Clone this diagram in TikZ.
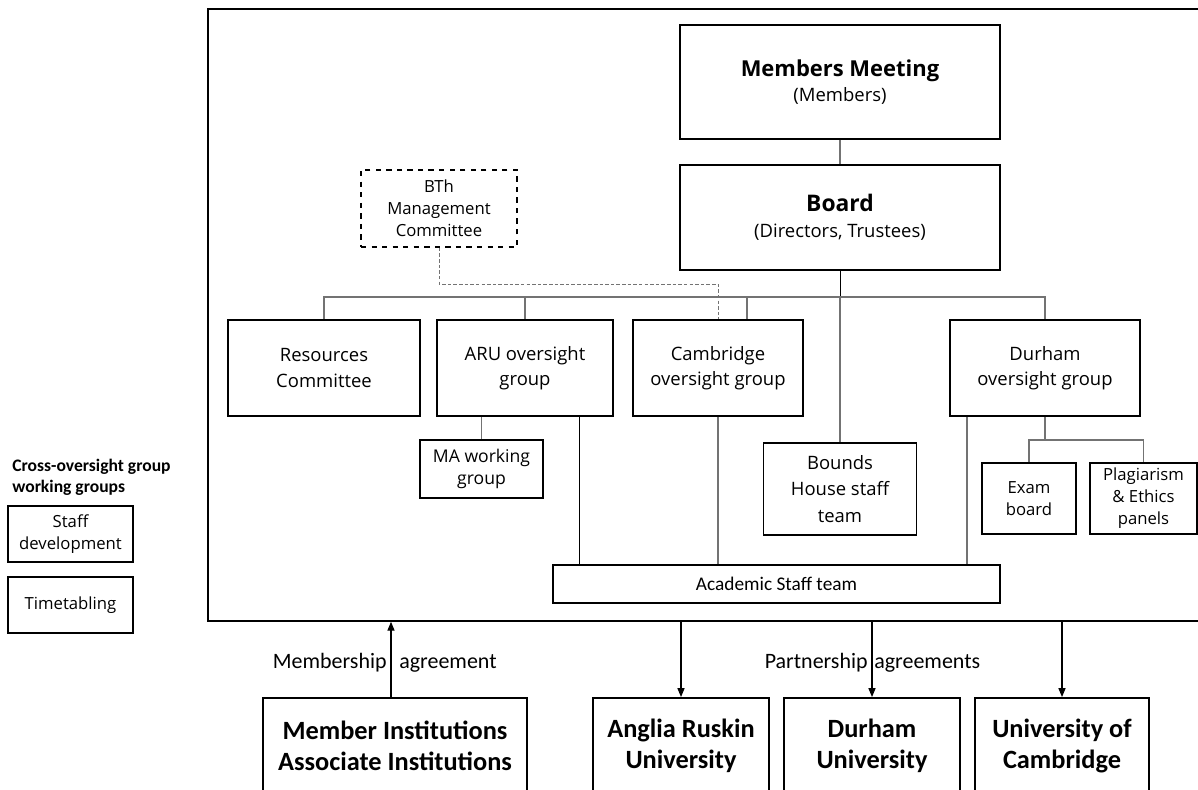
\documentclass[tikz,border=0pt]{standalone}
\usepackage{fontspec}
\setmainfont{Open Sans}
\newfontfamily\calib{Carlito}
\usetikzlibrary{arrows.meta}

\begin{document}
\begin{tikzpicture}[box/.style={rectangle,draw,line width=0.9pt,inner sep=0pt,align=center,font=\fontsize{10.5}{14.5}\selectfont},
	uni/.style={box,font=\calib\bfseries\fontsize{15}{18}\selectfont,minimum width=3.52cm,minimum height=1.92cm},
	conn/.style={draw=black!55,line width=0.6pt},
	arr/.style={line width=0.6pt,-{Triangle[length=5pt,width=4pt]}},
	lbl/.style={font=\calib\fontsize{12.5}{15}\selectfont,inner sep=0pt}]
\useasboundingbox (0,0) rectangle (23.96,-15.78);
\clip (0,0) rectangle (23.96,-15.78);

\node[draw,line width=0.9pt,minimum width=20.04cm,minimum height=12.24cm] at (14.18,-6.3) (frame) {};

\node[box,minimum width=6.4cm,minimum height=2.28cm] at (16.8,-1.64) (mm) {{\bfseries\fontsize{12.5}{17}\selectfont Members Meeting}\\(Members)};
\node[box,minimum width=6.4cm,minimum height=2.1cm] at (16.8,-4.35) (board) {{\bfseries\fontsize{13}{18}\selectfont Board}\\(Directors, Trustees)};
\node[box,dashed,minimum width=3.12cm,minimum height=1.54cm,font=\fontsize{9.5}{12.5}\selectfont] at (8.78,-4.17) (bth) {BTh\\Management\\Committee};

\node[box,minimum width=3.84cm,minimum height=1.92cm] at (6.48,-7.36) (res) {Resources\\Committee};
\node[box,minimum width=3.52cm,minimum height=1.92cm] at (10.5,-7.36) (aru) {ARU oversight\\group};
\node[box,minimum width=3.4cm,minimum height=1.92cm] at (14.36,-7.36) (cam) {Cambridge\\oversight group};
\node[box,minimum width=3.8cm,minimum height=1.92cm] at (20.9,-7.36) (dur) {Durham\\oversight group};

\node[box,minimum width=2.46cm,minimum height=1.16cm,font=\fontsize{10}{13}\selectfont] at (9.63,-9.38) (ma) {MA working\\group};
\node[box,minimum width=3.06cm,minimum height=1.84cm,font=\fontsize{10.5}{15}\selectfont] at (16.8,-9.78) (bounds) {Bounds\\House staff\\team};
\node[box,minimum width=1.88cm,minimum height=1.42cm,font=\fontsize{9.5}{12.5}\selectfont] at (20.58,-9.97) (exam) {Exam\\board};
\node[box,minimum width=2.14cm,minimum height=1.42cm,font=\fontsize{9.5}{12.5}\selectfont] at (22.87,-9.97) (plag) {Plagiarism\\\&~Ethics\\panels};
\node[box,minimum width=8.94cm,minimum height=0.76cm,font=\calib\fontsize{11}{13}\selectfont] at (15.53,-11.68) (acad) {Academic Staff team};

% left hand groups
\node[anchor=west,align=left,inner sep=0pt,font=\calib\bfseries\fontsize{10}{12}\selectfont] at (0.24,-9.55) (cross) {Cross-oversight group\\working groups};
\node[box,minimum width=2.5cm,minimum height=1.12cm,font=\fontsize{9.5}{12.5}\selectfont] at (1.41,-10.68) (staff) {Staff\\development};
\node[box,minimum width=2.5cm,minimum height=1.12cm,font=\fontsize{9.5}{12.5}\selectfont] at (1.41,-12.1) (time) {Timetabling};

% institutions
\node[uni,anchor=north,minimum width=5.28cm] at (7.9,-13.94) (member) {Member Institutions\\Associate Institutions};
\node[uni,anchor=north] at (13.62,-13.94) (anglia) {Anglia Ruskin\\University};
\node[uni,anchor=north] at (17.44,-13.94) (durham) {Durham\\University};
\node[uni,anchor=north,minimum width=3.48cm] at (21.24,-13.94) (cambridge) {University of\\Cambridge};

\coordinate (bus) at (16.8,-5.94);
\coordinate (sub) at (20.9,-8.8);
\coordinate (dot) at (8.78,-5.68);
\coordinate (camdrop) at (14.94,0);
\coordinate (aruacad) at (11.58,0);
\coordinate (duracad) at (19.34,0);
\coordinate (memarr) at (7.82,0);

\draw[conn] (mm) -- (board);
\draw (board) -- (bus);
\draw[conn] (res.north) |- (bus) -| (dur.north);
\draw[conn] (aru.north) -- (aru.north |- bus);
\draw[conn] (cam.north -| camdrop) -- (bus -| camdrop);
\draw[conn] (bus) -- (bounds);
\draw[conn,dash pattern=on 2pt off 1.2pt,line width=0.5pt] (bth.south) |- (dot -| cam.north) -- (cam.north);

\draw[conn] (ma.north) -- (ma.north |- aru.south);
\draw (aru.south -| aruacad) -- (acad.north -| aruacad);
\draw[conn] (cam.south) -- (cam.south |- acad.north);
\draw[conn] (dur.south -| duracad) -- (acad.north -| duracad);
\draw[conn] (dur.south) -- (sub);
\draw[conn] (exam.north) |- (sub) -| (plag.north);

\draw[arr] (member.north -| memarr) -- (frame.south -| memarr);
\draw[arr] (frame.south -| anglia.north) -- (anglia.north);
\draw[arr] (frame.south -| durham.north) -- (durham.north);
\draw[arr] (frame.south -| cambridge.north) -- (cambridge.north);

\node[lbl,anchor=east] at (7.74,-13.26) (ml) {Membership};
\node[lbl,anchor=west] at (7.98,-13.26) (ma2) {agreement};
\node[lbl,anchor=east] at (17.36,-13.26) (pl) {Partnership};
\node[lbl,anchor=west] at (17.48,-13.26) (pa) {agreements};
\end{tikzpicture}
\end{document}
